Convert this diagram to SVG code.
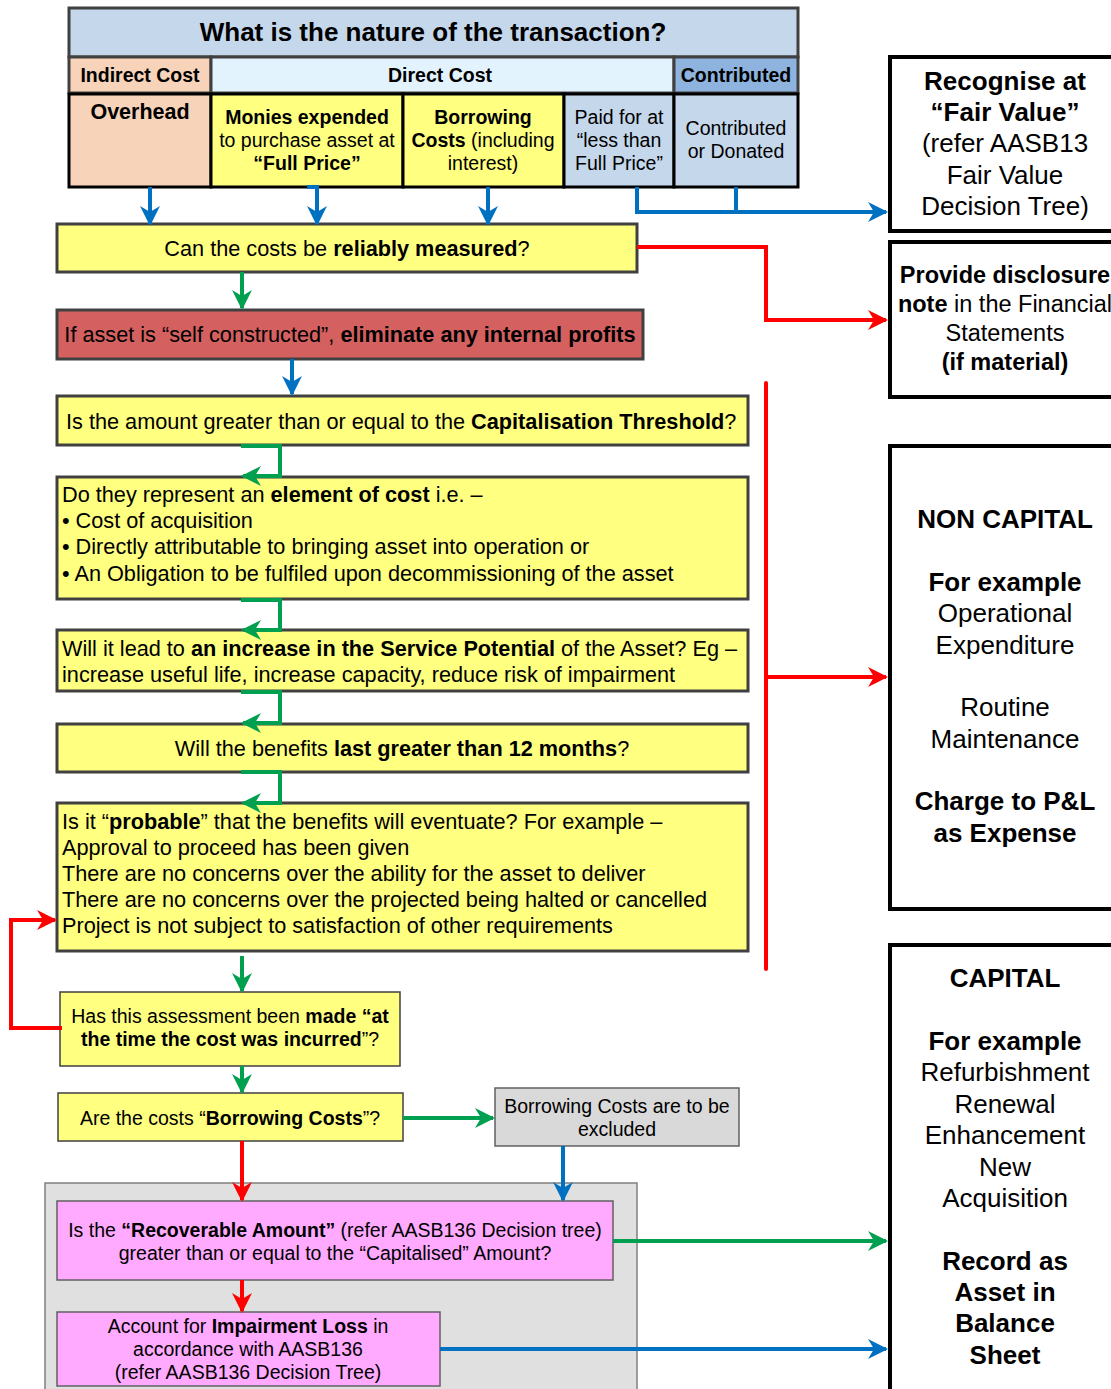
<svg xmlns="http://www.w3.org/2000/svg" width="1111" height="1389" viewBox="0 0 1111 1389">
<defs>
<marker id="ab" viewBox="0 0 10 10" refX="9" refY="5" markerWidth="5" markerHeight="5" orient="auto" markerUnits="strokeWidth"><path d="M0,0 L10,5 L0,10 L3,5 z" fill="#0070c0"/></marker>
<marker id="ag" viewBox="0 0 10 10" refX="9" refY="5" markerWidth="5" markerHeight="5" orient="auto" markerUnits="strokeWidth"><path d="M0,0 L10,5 L0,10 L3,5 z" fill="#00a050"/></marker>
<marker id="ar" viewBox="0 0 10 10" refX="9" refY="5" markerWidth="5" markerHeight="5" orient="auto" markerUnits="strokeWidth"><path d="M0,0 L10,5 L0,10 L3,5 z" fill="#ff0000"/></marker>
<linearGradient id="gw" x1="0" y1="0" x2="0" y2="1"><stop offset="0" stop-color="#ffffff"/><stop offset="1" stop-color="#ececec"/></linearGradient>
</defs>
<style>
text{font-family:"Liberation Sans",Arial,sans-serif;fill:#000}
.b{font-weight:bold}
.c{text-anchor:middle}
.yb{fill:#ffff80;stroke:#404040;stroke-width:3}
.yt{fill:#ffff80;stroke:#404040;stroke-width:1.5}
.hd{stroke:#404040;stroke-width:3}
.bk{stroke:#000;stroke-width:3}
.big{fill:none;stroke:#000;stroke-width:4}
.lb{fill:none;stroke:#0070c0;stroke-width:4}
.lg{fill:none;stroke:#00a050;stroke-width:4}
.lr{fill:none;stroke:#ff0000;stroke-width:4}
.t19{font-size:21.7px}
.t17{font-size:19.5px}
.t24{font-size:26px}
.th{font-size:19.5px}
</style>
<rect width="1111" height="1389" fill="#ffffff"/>

<g id="header">
<rect x="69" y="8" width="729" height="49" fill="#c5d7ea" class="hd"/>
<text x="433" y="41" class="b c" font-size="26">What is the nature of the transaction?</text>
<rect x="69" y="57" width="142" height="36" fill="#f6d3b9" class="hd"/>
<text x="140" y="82" class="b c th">Indirect Cost</text>
<rect x="211" y="57" width="463" height="36" fill="#e3f3fd" class="hd"/>
<text x="440" y="82" class="b c th">Direct Cost</text>
<rect x="674" y="57" width="124" height="36" fill="#8db3de" class="hd"/>
<text x="736" y="82" class="b c th">Contributed</text>
</g>
<g id="overhead">
<rect x="69" y="94" width="142" height="93" fill="#f6d3b9" class="bk"/>
<text x="140" y="119" class="b c" font-size="21.5">Overhead</text>
</g>
<g id="monies">
<rect x="211" y="94" width="192" height="93" fill="#ffff80" class="bk"/>
<text x="307" y="124" class="c th"><tspan class="b">Monies expended</tspan><tspan x="307" dy="23">to purchase asset at</tspan><tspan x="307" dy="23" class="b">“Full Price”</tspan></text>
</g>
<g id="borrowing">
<rect x="403" y="94" width="161" height="93" fill="#ffff80" class="bk"/>
<text x="483" y="124" class="c th"><tspan class="b">Borrowing</tspan><tspan x="483" dy="23"><tspan class="b">Costs</tspan> (including</tspan><tspan x="483" dy="23">interest)</tspan></text>
</g>
<g id="paid">
<rect x="564" y="94" width="110" height="93" fill="#c5d7ea" class="bk"/>
<text x="619" y="124" class="c th"><tspan>Paid for at</tspan><tspan x="619" dy="23">“less than</tspan><tspan x="619" dy="23">Full Price”</tspan></text>
</g>
<g id="donated">
<rect x="674" y="94" width="124" height="93" fill="#c5d7ea" class="bk"/>
<text x="736" y="135" class="c th"><tspan>Contributed</tspan><tspan x="736" dy="23">or Donated</tspan></text>
</g>

<g id="fairvalue">
<rect x="890" y="57" width="225" height="174" fill="#c5d7ea" class="big"/>
<text x="1005" y="90" class="c t24"><tspan class="b">Recognise at</tspan><tspan x="1005" dy="31" class="b">“Fair Value”</tspan><tspan x="1005" dy="31">(refer AASB13</tspan><tspan x="1005" dy="32">Fair Value</tspan><tspan x="1005" dy="31">Decision Tree)</tspan></text>
</g>
<g id="disclosure">
<rect x="890" y="242" width="225" height="155" fill="url(#gw)" class="big"/>
<text x="1005" y="283" class="c" font-size="23.5"><tspan class="b">Provide disclosure</tspan><tspan x="1005" dy="29"><tspan class="b">note</tspan> in the Financial</tspan><tspan x="1005" dy="29">Statements</tspan><tspan x="1005" dy="29" class="b">(if material)</tspan></text>
</g>

<g id="reliable">
<rect x="57" y="224" width="580" height="48" class="yb"/>
<text x="347" y="256" class="c t19">Can the costs be <tspan class="b">reliably measured</tspan>?</text>
</g>
<g id="selfconstructed">
<rect x="57" y="310" width="586" height="49" fill="#d46060" stroke="#404040" stroke-width="3"/>
<text x="350" y="342" class="c t19">If asset is “self constructed”, <tspan class="b">eliminate any internal profits</tspan></text>
</g>
<g id="threshold">
<rect x="57" y="396" width="691" height="49" class="yb"/>
<text x="66" y="429" class="t19">Is the amount greater than or equal to the <tspan class="b">Capitalisation Threshold</tspan>?</text>
</g>
<g id="element">
<rect x="57" y="477" width="691" height="122" class="yb"/>
<text x="62" y="502" class="t19">Do they represent an <tspan class="b">element of cost</tspan> i.e. –</text>
<text x="62" y="528" class="t19">• Cost of acquisition</text>
<text x="62" y="554" class="t19">• Directly attributable to bringing asset into operation or</text>
<text x="62" y="581" class="t19">• An Obligation to be fulfiled upon decommissioning of the asset</text>
</g>
<g id="service">
<rect x="57" y="630" width="691" height="61" class="yb"/>
<text x="62" y="656" class="t19">Will it lead to <tspan class="b">an increase in the Service Potential</tspan> of the Asset? Eg –</text>
<text x="62" y="682" class="t19">increase useful life, increase capacity, reduce risk of impairment</text>
</g>
<g id="benefits">
<rect x="57" y="724" width="691" height="48" class="yb"/>
<text x="402" y="756" class="c t19">Will the benefits <tspan class="b">last greater than 12 months</tspan>?</text>
</g>
<g id="probable">
<rect x="57" y="803" width="691" height="148" class="yb"/>
<text x="62" y="829" class="t19">Is it “<tspan class="b">probable</tspan>” that the benefits will eventuate? For example –</text>
<text x="62" y="855" class="t19">Approval to proceed has been given</text>
<text x="62" y="881" class="t19">There are no concerns over the ability for the asset to deliver</text>
<text x="62" y="907" class="t19">There are no concerns over the projected being halted or cancelled</text>
<text x="62" y="933" class="t19">Project is not subject to satisfaction of other requirements</text>
</g>

<g id="noncapital">
<rect x="890" y="446" width="225" height="463" fill="#c1c59f" class="big"/>
<text x="1005" y="528" class="c t24"><tspan class="b">NON CAPITAL</tspan><tspan x="1005" dy="63" class="b">For example</tspan><tspan x="1005" dy="31">Operational</tspan><tspan x="1005" dy="32">Expenditure</tspan><tspan x="1005" dy="62">Routine</tspan><tspan x="1005" dy="32">Maintenance</tspan><tspan x="1005" dy="62" class="b">Charge to P&amp;L</tspan><tspan x="1005" dy="32" class="b">as Expense</tspan></text>
</g>
<g id="capital">
<rect x="890" y="945" width="225" height="450" fill="#00b050" class="big"/>
<text x="1005" y="987" class="c t24"><tspan class="b">CAPITAL</tspan><tspan x="1005" dy="63" class="b">For example</tspan><tspan x="1005" dy="31">Refurbishment</tspan><tspan x="1005" dy="32">Renewal</tspan><tspan x="1005" dy="31">Enhancement</tspan><tspan x="1005" dy="32">New</tspan><tspan x="1005" dy="31">Acquisition</tspan><tspan x="1005" dy="63" class="b">Record as</tspan><tspan x="1005" dy="31" class="b">Asset in</tspan><tspan x="1005" dy="31" class="b">Balance</tspan><tspan x="1005" dy="32" class="b">Sheet</tspan></text>
</g>

<g id="timing">
<rect x="60" y="992" width="340" height="74" class="yt"/>
<text x="230" y="1023" class="c t17">Has this assessment been <tspan class="b">made “at</tspan><tspan x="230" dy="23"><tspan class="b">the time the cost was incurred</tspan>”?</tspan></text>
</g>
<g id="borrowq">
<rect x="58" y="1093" width="345" height="48" class="yt"/>
<text x="230" y="1125" class="c t17">Are the costs “<tspan class="b">Borrowing Costs</tspan>”?</text>
</g>
<g id="excluded">
<rect x="495" y="1088" width="244" height="58" fill="#d9d9d9" stroke="#606060" stroke-width="1.5"/>
<text x="617" y="1113" class="c t17">Borrowing Costs are to be<tspan x="617" dy="23">excluded</tspan></text>
</g>
<g id="impairmentgroup">
<rect x="45" y="1183" width="592" height="210" fill="#e0e0e0" stroke="#808080" stroke-width="1.5"/>
</g>
<g id="recoverable">
<rect x="57" y="1201" width="556" height="79" fill="#ffaaff" stroke="#606060" stroke-width="1.5"/>
<text x="335" y="1237" class="c t17">Is the <tspan class="b">“Recoverable Amount”</tspan> (refer AASB136 Decision tree)<tspan x="335" dy="23">greater than or equal to the “Capitalised” Amount?</tspan></text>
</g>
<g id="impairment">
<rect x="57" y="1312" width="383" height="74" fill="#ffaaff" stroke="#606060" stroke-width="1.5"/>
<text x="248" y="1333" class="c t17">Account for <tspan class="b">Impairment Loss</tspan> in<tspan x="248" dy="23">accordance with AASB136</tspan><tspan x="248" dy="23">(refer AASB136 Decision Tree)</tspan></text>
</g>

<g id="connectors">
<path d="M150,187 V224" class="lb" marker-end="url(#ab)"/>
<path d="M307,187 H317 V224" class="lb" marker-end="url(#ab)"/>
<path d="M488,187 V224" class="lb" marker-end="url(#ab)"/>
<path d="M637,187 V212 H886" class="lb" marker-end="url(#ab)"/>
<path d="M736,187 V212" class="lb"/>
<path d="M637,247 H766 V320 H886" class="lr" marker-end="url(#ar)"/>
<path d="M242,272 V308" class="lg" marker-end="url(#ag)"/>
<path d="M292,359 V394" class="lb" marker-end="url(#ab)"/>
<path d="M241,446 H280 V476 H243" class="lg" marker-end="url(#ag)"/>
<path d="M241,600 H280 V630 H243" class="lg" marker-end="url(#ag)"/>
<path d="M241,692 H280 V723 H243" class="lg" marker-end="url(#ag)"/>
<path d="M241,772 H280 V803 H243" class="lg" marker-end="url(#ag)"/>
<path d="M766,383 V969" class="lr" stroke-linecap="round"/>
<path d="M766,677 H886" class="lr" marker-end="url(#ar)"/>
<path d="M242,956 V991" class="lg" marker-end="url(#ag)"/>
<path d="M62,1028 H11 V920 H55" class="lr" marker-end="url(#ar)"/>
<path d="M242,1066 V1092" class="lg" marker-end="url(#ag)"/>
<path d="M403,1118 H493" class="lg" marker-end="url(#ag)"/>
<path d="M563,1146 V1200" class="lb" marker-end="url(#ab)"/>
<path d="M242,1141 V1200" class="lr" marker-end="url(#ar)"/>
<path d="M613,1241 H886" class="lg" marker-end="url(#ag)"/>
<path d="M242,1280 V1311" class="lr" marker-end="url(#ar)"/>
<path d="M440,1349 H886" class="lb" marker-end="url(#ab)"/>
</g>
</svg>
